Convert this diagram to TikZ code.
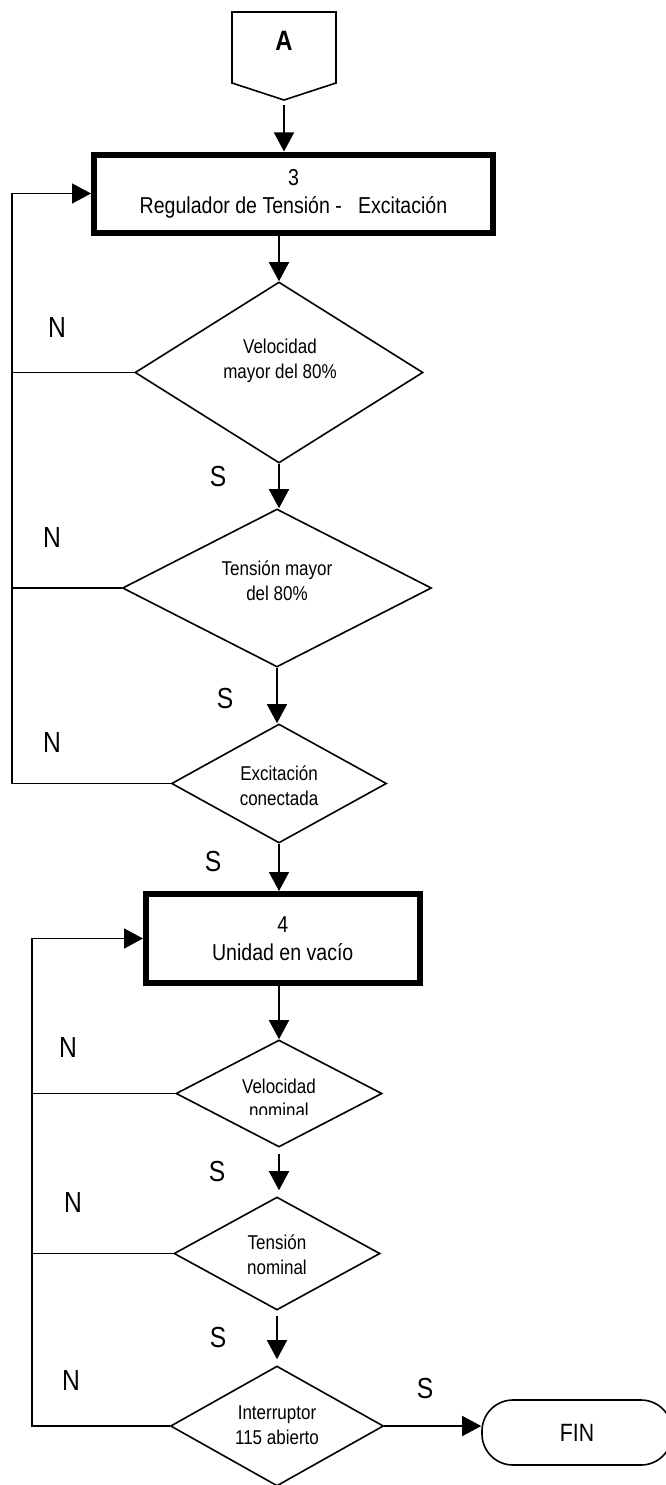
\documentclass[tikz,border=0pt]{standalone}
\usepackage{fontspec}
\setmainfont{Liberation Sans}[FakeStretch=0.85]
\usetikzlibrary{arrows.meta,shapes.geometric}

\tikzset{
  flow/.style={line width=1.6pt},
  arr/.style={flow,-{Triangle[width=20pt,length=19pt]}},
  procbox/.style={draw,rectangle,line width=6pt,inner sep=0pt,align=center,
    font=\fontsize{23}{28}\selectfont},
  decision/.style={draw,diamond,line width=1.6pt,inner sep=0pt},
  dtext/.style={inner sep=0pt,align=center,font=\fontsize{20}{25}\selectfont},
  dline/.style={inner sep=0pt,anchor=base,font=\fontsize{20}{25}\selectfont},
  yn/.style={inner sep=0pt,font=\fontsize{29}{29}\selectfont},
  term/.style={draw,rectangle,rounded corners=31pt,line width=1.6pt,inner sep=0pt,
    font=\fontsize{25}{25}\selectfont},
}

\begin{document}
\begin{tikzpicture}[x=1pt,y=-1pt]
\useasboundingbox (0,0) rectangle (665,1485);

% off-page connector A
\draw[flow,line join=miter] (232,12) -- (336,12) -- (336,83) -- (284,100) -- (232,83) -- cycle;
\node[inner sep=0pt,font=\bfseries\fontsize{28}{28}\selectfont] (A) at (284,41) {A};
\coordinate (Abot) at (284,105);

% process boxes
\node[procbox,minimum width=399pt,minimum height=78pt] (box1) at (293.5,193.5)
  {3\\Regulador de Tensión -\ \ \ Excitación};
\node[procbox,minimum width=273.5pt,minimum height=89pt] (box2) at (282.75,938.5)
  {4\\Unidad en vacío};

% decisions
\node[decision,minimum width=288pt,minimum height=181pt] (d1) at (279,372.5) {};
\node[decision,minimum width=309pt,minimum height=158pt] (d2) at (277,588) {};
\node[decision,minimum width=215pt,minimum height=119pt] (d3) at (279,783.5) {};
\node[decision,minimum width=206pt,minimum height=107pt] (d4) at (279,1093.5) {};
\node[decision,minimum width=206pt,minimum height=113pt] (d5) at (277,1253.5) {};
\node[decision,minimum width=213pt,minimum height=120pt] (d6) at (277,1426) {};

\node[dtext] (t1) at (280,361) {Velocidad\\mayor del 80\%};
\node[dtext] (t2) at (277,581) {Tensión mayor\\del 80\%};
\node[dtext] (t3) at (279,786) {Excitación\\conectada};
% second line of this label is cut off along its baseline
\node[dline] (t4a) at (279,1093) {Velocidad};
\begin{scope}
  \clip (150,1096) rectangle (400,1114);
  \node[dline] (t4b) at (279,1117) {nominal};
\end{scope}
\node[dtext] (t5) at (277,1255) {Tensión\\nominal};
\node[dtext] (t6) at (277,1425) {Interruptor\\115 abierto};

% terminal
\node[term,minimum width=190pt,minimum height=65pt] (fin) at (577,1432.5) {FIN};

% main flow
\draw[arr] (Abot) -- (Abot |- box1.north);
\draw[arr] (box1.south -| d1.north) -- (d1.north);
\draw[arr] (d1.south) -- (d1.south |- d2.north);
\draw[arr] (d2.south) -- (d2.south |- d3.north);
\draw[arr] (d3.south) -- (d3.south |- box2.north);
\draw[arr] (box2.south -| d4.north) -- (d4.north);
\draw[arr] ([yshift=-6pt]d4.south) -- ([yshift=6pt]d4.south |- d5.north);
\draw[arr] ([yshift=-5pt]d5.south) -- ([yshift=6pt]d5.south |- d6.north);
\draw[arr] (d6.east) -- (d6.east -| fin.west);

% return loops
\coordinate (L1) at (12,193.5);
\coordinate (L2) at (32,938.5);
\draw[arr] (d3.west) -| (L1) -- (box1.west);
\draw[flow] (d1.west) -- (d1.west -| L1);
\draw[flow] (d2.west) -- (d2.west -| L1);
\draw[arr] (d6.west) -| (L2) -- (box2.west);
\draw[flow] (d4.west) -- (d4.west -| L2);
\draw[flow] (d5.west) -- (d5.west -| L2);

% branch labels
\node[yn] (n1) at (57,328) {N};
\node[yn] (n2) at (52,538) {N};
\node[yn] (n3) at (52,743) {N};
\node[yn] (n4) at (68,1048) {N};
\node[yn] (n5) at (73,1203) {N};
\node[yn] (n6) at (71,1381) {N};
\node[yn] (s1) at (218,477) {S};
\node[yn] (s2) at (225,699) {S};
\node[yn] (s3) at (213,862) {S};
\node[yn] (s4) at (217,1172) {S};
\node[yn] (s5) at (218,1337) {S};
\node[yn] (s6) at (425,1388) {S};
\end{tikzpicture}
\end{document}
